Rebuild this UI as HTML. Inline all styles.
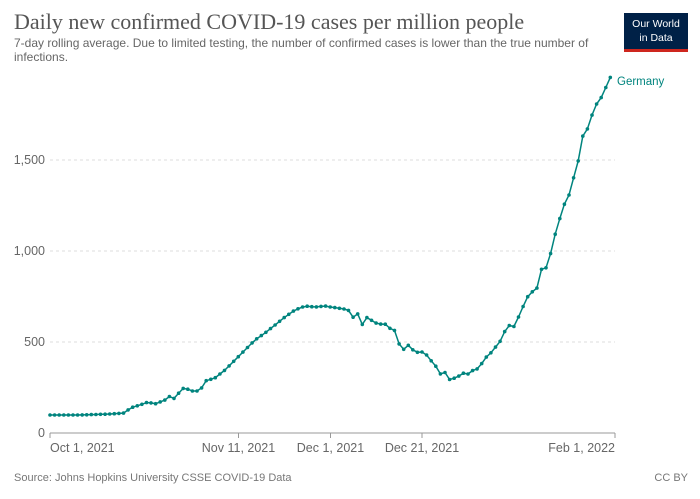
<!DOCTYPE html>
<html><head><meta charset="utf-8"><style>
body{margin:0;background:#fff;width:700px;height:494px;overflow:hidden;font-family:"Liberation Sans",sans-serif}
</style></head><body>
<svg width="700" height="494" xmlns="http://www.w3.org/2000/svg" font-family="Liberation Sans, sans-serif">
<text x="14" y="29" font-family="Liberation Serif, serif" font-size="22" fill="#555">Daily new confirmed COVID-19 cases per million people</text>
<text x="14" y="47" font-size="12" fill="#666">7-day rolling average. Due to limited testing, the number of confirmed cases is lower than the true number of</text>
<text x="14" y="61" font-size="12" fill="#666">infections.</text>
<rect x="624" y="13" width="64" height="36" fill="#002147"/>
<rect x="624" y="49" width="64" height="3" fill="#ce261e"/>
<text x="656" y="27" font-size="10.5" fill="#fff" text-anchor="middle">Our World</text>
<text x="656" y="41" font-size="10.5" fill="#fff" text-anchor="middle">in Data</text>
<g stroke="#ddd" stroke-dasharray="3,3">
<line x1="50" x2="615" y1="342" y2="342"/><line x1="50" x2="615" y1="251" y2="251"/><line x1="50" x2="615" y1="160" y2="160"/>
</g>
<g font-size="12.5" fill="#666" text-anchor="end">
<text x="45" y="437">0</text><text x="45" y="346">500</text><text x="45" y="255">1,000</text><text x="45" y="164">1,500</text>
</g>
<line x1="50" x2="615" y1="433" y2="433" stroke="#999"/>
<g stroke="#999"><line x1="50" x2="50" y1="433" y2="438"/><line x1="238.5" x2="238.5" y1="433" y2="438"/><line x1="330.5" x2="330.5" y1="433" y2="438"/><line x1="422" x2="422" y1="433" y2="438"/><line x1="615" x2="615" y1="433" y2="438"/></g>
<g font-size="12.5" fill="#666">
<text x="50" y="452">Oct 1, 2021</text>
<text x="238.5" y="452" text-anchor="middle">Nov 11, 2021</text>
<text x="330.5" y="452" text-anchor="middle">Dec 1, 2021</text>
<text x="422" y="452" text-anchor="middle">Dec 21, 2021</text>
<text x="615" y="452" text-anchor="end">Feb 1, 2022</text>
</g>
<text x="14" y="481" font-size="11" fill="#777">Source: Johns Hopkins University CSSE COVID-19 Data</text>
<text x="688" y="481" font-size="11" fill="#777" text-anchor="end">CC BY</text>
<text x="617" y="85" font-size="11.5" fill="#00847e">Germany</text>
<g id="s"></g>
</svg>
<script>
var k=[[50,415],[80,415],[110,414],[125,413],[130,408],[140,405],[148,402],[155,404],[165,400],[170,396],[175,399],[180,391],[185,387],[190,391],[200,391],[205,381],[215,378],[225,370],[235,360],[245,350],[255,340],[265,333],[275,325],[285,317],[295,310],[305,306],[315,307],[325,306],[330,307],[338,308],[343,309],[348,309],[352,319],[357,311],[361,327],[366,317],[371,320],[376,323],[380,325],[384,320],[388,333],[392,323],[398,341],[402,352],[407,344],[411,348],[416,353],[420,351],[424,353],[428,356],[432,362],[435,364],[439,375],[443,372],[447,373],[451,383],[455,377],[459,376],[463,373],[467,375],[471,371],[475,370],[479,368],[484,360],[488,355],[492,352],[497,345],[502,339],[506,328],[510,325],[512,318],[516,336],[518,318],[521,312],[524,304],[528,296],[532,292],[537,288],[542,267],[547,268],[551,252],[555,235],[560,218],[564,205],[569,195],[573,180],[578,162],[583,135],[587,130],[592,115],[597,103],[601,98],[606,87],[611,76]];
function f(x){for(var i=1;i<k.length;i++){if(x<=k[i][0]){var a=k[i-1],b=k[i],t=(x-a[0])/(b[0]-a[0]);return a[1]+t*(b[1]-a[1]);}}return k[k.length-1][1];}
var p=[],c='';for(var d=0;d<=122;d++){var x=50+d*4.593;var y=f(x);p.push(x.toFixed(1)+','+y.toFixed(1));c+='<circle cx="'+x.toFixed(1)+'" cy="'+y.toFixed(1)+'" r="1.8" fill="#00847e"/>';}
document.getElementById('s').innerHTML='<polyline fill="none" stroke="#00847e" stroke-width="1.5" points="'+p.join(' ')+'"/>'+c;
</script>
</body></html>
